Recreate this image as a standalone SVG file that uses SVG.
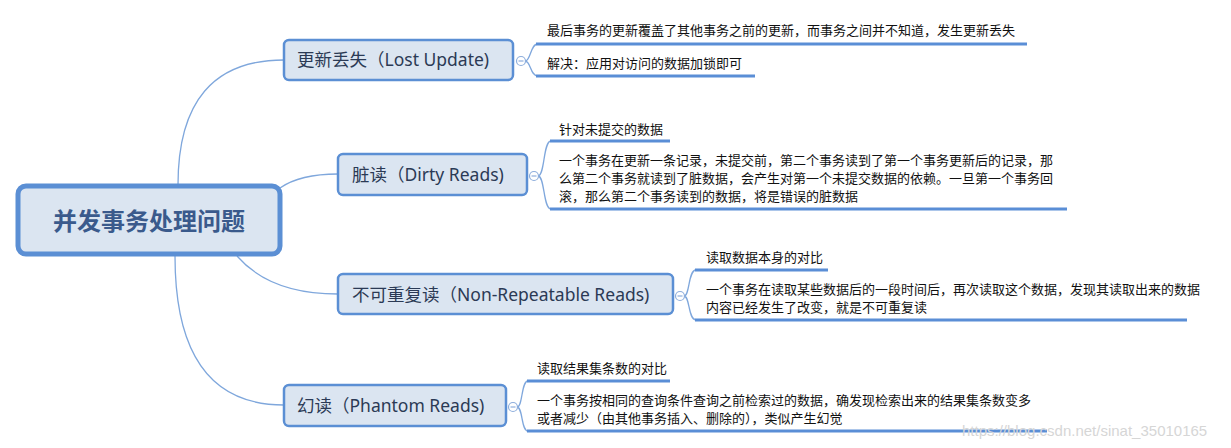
<svg xmlns="http://www.w3.org/2000/svg" width="1231" height="448" viewBox="0 0 1231 448">
<style>
.bg{fill:#ffffff}
.conn{fill:none;stroke:#7fa7dc;stroke-width:1.3}
.brk{fill:none;stroke:#7fa7dc;stroke-width:1.3}
.ul{stroke:#5a8ed6;stroke-width:3;stroke-linecap:butt}
.root{fill:#dbe5f1;stroke:#5b8fd4;stroke-width:5}
.br{fill:#dbe5f1;stroke:#5b8fd4;stroke-width:2.5}
.rt{font-family:"Noto Sans CJK SC","Noto Sans",sans-serif;font-size:24px;font-weight:bold;fill:#3a5a8c}
.bt{font-family:"Noto Sans","Noto Sans CJK SC",sans-serif;font-size:17.5px;fill:#2b3a55}
.tx{font-family:"Noto Sans CJK SC",sans-serif;font-size:13px;fill:#111111}
.col{fill:#ffffff;stroke:#8eaedc;stroke-width:1.2}
.min{stroke:#8eaedc;stroke-width:1.2}
.wm{font-family:"Liberation Sans",Arial,sans-serif;font-size:15px;fill:#d6d6d6}
</style>
<rect class="bg" x="0" y="0" width="1231" height="448"/>
<g id="connectors">
<path class="conn" d="M178,185 Q178,60 284,60"/>
<path class="conn" d="M280,188 Q300,174 338,174"/>
<path class="conn" d="M237,256 Q270,294 338,294"/>
<path class="conn" d="M175,256 Q175,405 284,405"/>
<path class="brk" d="M525,61 C531,61 530,44 538,44 M525,61 C531,61 530,76 538,76"/>
<path class="brk" d="M538,176 C545,176 543,141 551,141 M538,176 C545,176 543,209 551,209"/>
<path class="brk" d="M684,296 C690,296 688,270 696,270 M684,296 C690,296 688,320 696,320"/>
<path class="brk" d="M517,407 C523,407 521,381 528,381 M517,407 C523,407 521,431 528,431"/>
</g>
<g id="root">
<rect class="root" x="18" y="186" width="262" height="68" rx="8"/>
<text class="rt" x="149" y="230" text-anchor="middle">并发事务处理问题</text>
</g>
<g id="b1">
<rect class="br" x="284" y="40" width="229" height="40" rx="5"/>
<text class="bt" x="297" y="66">更新丢失（Lost Update)</text>
<circle class="col" cx="521" cy="61" r="4.5"/><line class="min" x1="518.5" y1="61" x2="523.5" y2="61"/>
</g>
<g id="b1c1">
<text class="tx" x="547" y="35">最后事务的更新覆盖了其他事务之前的更新，而事务之间并不知道，发生更新丢失</text>
<line class="ul" x1="536" y1="44" x2="1027" y2="44"/>
</g>
<g id="b1c2">
<text class="tx" x="547" y="68">解决：应用对访问的数据加锁即可</text>
<line class="ul" x1="536" y1="76" x2="755" y2="76"/>
</g>
<g id="b2">
<rect class="br" x="338" y="154" width="189" height="41" rx="5"/>
<text class="bt" x="352" y="181">脏读（Dirty Reads)</text>
<circle class="col" cx="534" cy="176" r="4.5"/><line class="min" x1="531.5" y1="176" x2="536.5" y2="176"/>
</g>
<g id="b2c1">
<text class="tx" x="559" y="134">针对未提交的数据</text>
<line class="ul" x1="550" y1="141" x2="670" y2="141"/>
</g>
<g id="b2c2">
<text class="tx" x="559" y="165">一个事务在更新一条记录，未提交前，第二个事务读到了第一个事务更新后的记录，那</text>
<text class="tx" x="559" y="183">么第二个事务就读到了脏数据，会产生对第一个未提交数据的依赖。一旦第一个事务回</text>
<text class="tx" x="559" y="201">滚，那么第二个事务读到的数据，将是错误的脏数据</text>
<line class="ul" x1="550" y1="209" x2="1067" y2="209"/>
</g>
<g id="b3">
<rect class="br" x="338" y="274" width="335" height="40" rx="5"/>
<text class="bt" x="352" y="301">不可重复读（Non-Repeatable Reads)</text>
<circle class="col" cx="680" cy="296" r="4.5"/><line class="min" x1="677.5" y1="296" x2="682.5" y2="296"/>
</g>
<g id="b3c1">
<text class="tx" x="706" y="262">读取数据本身的对比</text>
<line class="ul" x1="695" y1="270" x2="828" y2="270"/>
</g>
<g id="b3c2">
<text class="tx" x="706" y="294">一个事务在读取某些数据后的一段时间后，再次读取这个数据，发现其读取出来的数据</text>
<text class="tx" x="706" y="312">内容已经发生了改变，就是不可重复读</text>
<line class="ul" x1="695" y1="320" x2="1187" y2="320"/>
</g>
<g id="b4">
<rect class="br" x="284" y="385" width="222" height="41" rx="5"/>
<text class="bt" x="297" y="412">幻读（Phantom Reads)</text>
<circle class="col" cx="513" cy="407" r="4.5"/><line class="min" x1="510.5" y1="407" x2="515.5" y2="407"/>
</g>
<g id="b4c1">
<text class="tx" x="537" y="373">读取结果集条数的对比</text>
<line class="ul" x1="527" y1="381" x2="670" y2="381"/>
</g>
<g id="b4c2">
<text class="tx" x="537" y="405">一个事务按相同的查询条件查询之前检索过的数据，确发现检索出来的结果集条数变多</text>
<text class="tx" x="537" y="423">或者减少（由其他事务插入、删除的），类似产生幻觉</text>
<line class="ul" x1="527" y1="431" x2="1047" y2="431"/>
</g>
<text class="wm" x="962" y="436">https://blog.csdn.net/sinat_35010165</text>
</svg>
